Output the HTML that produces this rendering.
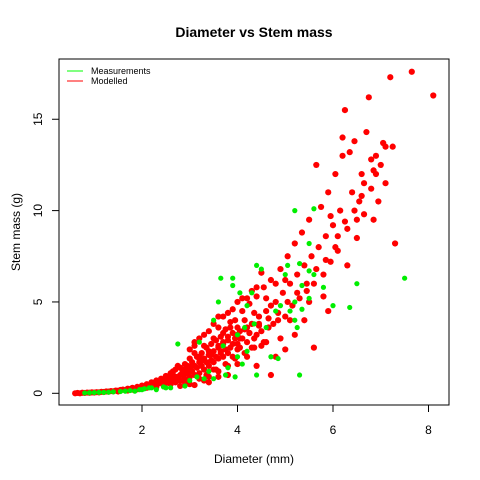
<!DOCTYPE html>
<html><head><meta charset="utf-8"><style>
html,body{margin:0;padding:0;background:#fff;}
svg{display:block;font-family:"Liberation Sans",Arial,sans-serif;}
</style></head><body>
<svg id="chart" width="480" height="480">
<rect x="0" y="0" width="480" height="480" fill="#fff"/>
<text x="254" y="37" text-anchor="middle" font-size="14" font-weight="bold">Diameter vs Stem mass</text>
<text x="254" y="463" text-anchor="middle" font-size="12">Diameter (mm)</text>
<text transform="translate(20,232) rotate(-90)" text-anchor="middle" font-size="12">Stem mass (g)</text>
<g id="axes"></g>
<g id="marks"></g>
<rect x="59" y="59" width="390" height="346" fill="none" stroke="#000" stroke-width="1"/>
<g>
<line x1="67" y1="71" x2="83" y2="71" stroke="#00ff00"/>
<text x="91" y="74" font-size="9">Measurements</text>
<line x1="67" y1="81" x2="83" y2="81" stroke="#ff0000"/>
<text x="91" y="84" font-size="9">Modelled</text>
</g>
</svg>
<script>
const xTicks=[2,4,6,8];
const yTicks=[0,5,10,15];
const modelledD=[0.6,0.65,0.7,0.75,0.8,0.85,0.9,0.95,1.0,1.05,1.1,1.15,1.2,1.25,1.3,1.35,1.4,1.45,1.5,1.55,1.6,1.65,1.7,1.75,1.8,1.85,1.9,1.95,2.0,2.05,2.1,2.15,2.2,2.25,2.3,2.35,2.4,2.45,2.5,2.55,2.6,2.65,2.7,2.75,2.8,2.85,2.9,2.95,3.0,3.05,3.1,3.15,3.2,3.25,3.3,3.35,3.4,3.45,3.5,3.55,3.6,3.65,3.7,3.75,3.8,3.85,3.9,3.95,4.0,4.05,4.1,4.15,4.2,4.25,4.3,4.35,4.4,4.45,4.5,4.55,4.6,4.65,4.7,4.75,4.8,4.85,4.9,4.95,5.0,5.05,5.1,5.15,5.2,5.25,5.3,5.35,5.4,5.45,5.5,5.55,5.6,5.65,5.7,5.75,5.8,5.85,5.9,5.95,6.0,6.05,6.1,6.15,6.2,6.25,6.3,6.35,6.4,6.45,6.5,6.55,6.6,6.65,6.7,6.75,6.8,6.85,6.9,6.95,7.0,7.05,7.1,7.2,7.25,7.3,7.65,8.1,5.6,5.2,4.7,4.8,5.0,3.8,3.6,3.3,3.0,2.8,3.5,4.0,4.2,4.4,5.9,5.8,6.5,6.3,6.8,6.1,5.4,4.9,3.1,3.3,3.6,3.9,4.1,4.3,3.7,4.5,2.9,3.2,3.4,3.7,4.0,2.6,2.7,2.4,2.2,2.0,1.8,2.3,2.5,2.65,2.85,3.05,3.25,3.45,3.65,3.85,4.05,4.25,4.45,4.65,4.85,5.05,5.25,5.45,5.65,5.85,6.05,6.25,6.45,6.65,6.85,5.5,5.1,4.6,3.35,3.55,3.75,3.95,4.15,4.35,4.55,6.2,6.9,7.1,6.6,5.95,
2.1,2.2,2.3,2.4,2.5,2.6,2.7,2.8,2.9,3.0,3.1,3.2,3.3,3.4,3.5,3.6,3.7,3.8,3.9,4.0,
2.55,2.65,2.75,2.85,2.95,3.05,3.15,3.25,3.35,3.45,3.55,3.65,3.75,3.85,3.95,4.05,4.15,4.25,4.35,4.45,
2.6,2.7,2.8,2.9,3.0,3.1,3.2,3.3,3.4,3.5,3.6,3.7,3.8,3.9,4.0,4.1,4.2,4.3,4.4,4.5,
3.0,3.1,3.2,3.4,3.5,3.6,3.8,4.0,4.2,4.4,4.6,4.8,5.0,4.7,
2.3,2.45,2.9,3.2,3.4,3.6,3.8,3.4,3.1,2.0,1.9,1.7,1.5];
const modelledM=[0,0.02,0,0.03,0.02,0.04,0.03,0.05,0.04,0.06,0.05,0.08,0.07,0.1,0.09,0.12,0.11,0.15,0.14,0.18,0.2,0.17,0.25,0.22,0.3,0.26,0.35,0.3,0.42,0.36,0.5,0.42,0.6,0.5,0.7,0.55,0.8,0.65,0.95,0.7,1.1,0.8,1.3,0.9,1.4,1.0,1.6,1.1,1.9,1.2,2.2,1.4,2.0,1.5,2.6,1.7,2.3,1.8,3.0,2.0,2.6,2.2,3.3,2.4,2.9,3.6,2.7,4.0,3.2,2.5,4.5,3.5,2.8,4.9,3.8,3.0,5.3,4.2,3.4,5.8,4.5,3.6,6.2,3.8,5.0,4.0,6.8,5.5,4.2,7.5,6.0,4.8,8.2,6.5,5.2,8.8,7.0,5.6,9.5,7.5,6.0,12.5,8.0,10.2,6.5,8.6,11.0,7.2,9.2,12.0,7.8,10.0,14.0,15.5,9.0,13.2,11.0,13.8,8.5,10.5,12.0,9.8,14.3,16.2,11.2,9.5,13.0,10.5,12.5,13.7,11.5,17.3,13.5,8.2,17.6,16.3,2.5,3.2,1.0,2.0,2.4,1.0,0.9,0.7,0.5,0.4,1.3,1.6,2.0,1.5,4.5,5.3,9.5,7.0,12.8,8.6,4.0,3.0,2.6,3.2,3.6,4.6,5.2,5.6,4.2,6.6,1.3,1.9,2.1,2.8,2.4,0.6,0.9,0.7,0.45,0.3,0.2,0.5,0.55,1.0,1.2,1.5,1.8,2.1,2.3,2.5,3.0,3.3,3.7,4.1,4.4,5.0,5.5,6.0,6.8,7.3,8.0,9.4,10.0,11.5,12.2,5.0,4.0,2.8,1.0,1.3,1.6,1.9,2.2,2.5,2.8,13.0,12.0,13.5,10.8,9.7,
0.3,0.4,0.45,0.6,0.7,0.75,0.85,1.0,1.1,1.3,1.5,1.7,1.9,2.1,2.3,2.5,2.7,3.1,3.3,3.6,
0.9,1.2,1.5,1.3,1.5,1.7,2.0,2.2,2.5,2.7,2.9,3.1,3.5,3.9,3.0,3.4,4.0,3.3,4.4,3.8,
0.5,0.6,0.7,0.8,0.9,1.0,1.1,1.3,1.5,1.7,1.9,2.0,2.2,2.0,2.7,3.0,3.6,2.5,3.2,2.6,
2.4,2.8,3.0,3.4,3.8,4.2,4.4,5.0,5.2,5.8,5.2,6.0,6.2,4.8,
0.35,0.45,0.6,0.8,0.9,1.2,1.5,0.6,0.45,0.3,0.22,0.15,0.1];
const measuredD=[0.8,0.9,1.0,1.1,1.2,1.3,1.4,1.55,1.65,1.75,1.85,1.95,2.05,2.15,2.3,2.45,2.6,2.75,3.2,3.5,3.4,3.5,3.0,3.15,3.3,2.9,2.5,2.2,2.0,3.8,3.75,3.95,3.7,4.0,4.1,4.2,4.4,4.35,4.2,4.05,3.9,3.9,4.6,4.7,4.85,4.8,4.9,5.1,5.2,5.3,5.25,5.2,5.35,5.35,5.0,5.5,5.3,5.5,5.6,5.5,5.6,5.2,5.05,5.8,6.0,6.35,6.5,7.5,4.5,4.4,4.3,4.0,4.15,3.65,3.6];
const measuredM=[0.02,0.03,0.04,0.05,0.05,0.06,0.08,0.1,0.12,0.15,0.12,0.2,0.25,0.3,0.2,0.35,0.3,2.7,2.8,4.0,1.2,0.8,0.7,0.9,0.8,0.4,0.3,0.3,0.2,1.4,1.0,0.9,2.6,2.0,1.6,2.3,1.0,3.8,4.8,5.5,5.9,6.3,3.6,2.0,1.9,4.5,4.8,4.5,4.0,1.0,3.6,5.0,4.6,5.9,6.5,5.2,7.1,6.7,6.5,8.2,10.1,10.0,7.0,5.8,4.8,4.7,6.0,6.3,6.8,7.0,5.5,3.2,3.6,6.3,5.0];
const NS="http://www.w3.org/2000/svg";
function xScale(v){return 46.5+v*47.75;}
function yScale(v){return 393.3-v*18.27;}
const axes=document.getElementById('axes');
const marks=document.getElementById('marks');
function mk(tag,attrs,parent){const e=document.createElementNS(NS,tag);for(const k in attrs)e.setAttribute(k,attrs[k]);parent.appendChild(e);return e;}
xTicks.forEach(t=>{
  const x=xScale(t);
  const l=mk('line',{x1:x,y1:405,x2:x,y2:412,stroke:'#000'},axes);
  
  
  const tx=mk('text',{x:x,y:434,'text-anchor':'middle','font-size':12},axes);
  tx.textContent=t;
  
  
});
const xl=mk('line',{x1:xScale(xTicks[0]),y1:405,x2:xScale(xTicks[xTicks.length-1]),y2:405,stroke:'#000'},axes);


yTicks.forEach(t=>{
  const y=yScale(t);
  const l=mk('line',{x1:52,y1:y,x2:59,y2:y,stroke:'#000'},axes);
  
  
  const tx=mk('text',{transform:'translate(42,'+y+') rotate(-90)','text-anchor':'middle','font-size':12},axes);
  tx.textContent=t;
  
  
});
const yl=mk('line',{x1:59,y1:yScale(yTicks[0]),x2:59,y2:yScale(yTicks[yTicks.length-1]),stroke:'#000'},axes);


modelledD.forEach((d,i)=>{
  const c=mk('circle',{cx:xScale(d),cy:yScale(modelledM[i]),r:3.1,fill:'#ff0000'},marks);
  
  
});
measuredD.forEach((d,i)=>{
  const c=mk('circle',{cx:xScale(d),cy:yScale(measuredM[i]),r:2.6,fill:'#00ee00'},marks);
  
  
});
</script>
</body></html>
